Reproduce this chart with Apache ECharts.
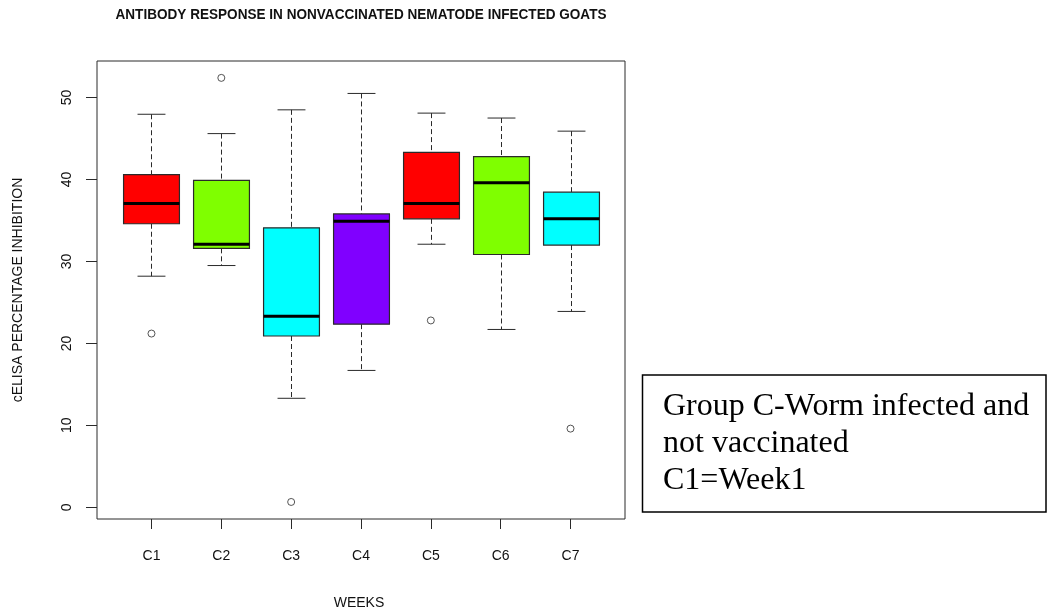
<!DOCTYPE html>
<html>
<head>
<meta charset="utf-8">
<script src="https://cdn.jsdelivr.net/npm/echarts@6/dist/echarts.min.js"></script>
<style>
html,body{margin:0;padding:0;background:#fff;}
#main{width:1048px;height:613px;}
</style>
</head>
<body>
<div id="main"></div>
<script>
// ---- data ----
const categories = ['C1', 'C2', 'C3', 'C4', 'C5', 'C6', 'C7'];
const weekPositions = [1, 2, 3, 4, 5, 6, 7];
const whiskerLow  = [28.2, 29.5, 13.3, 16.7, 32.1, 21.7, 23.9];
const q1Values    = [34.6, 31.6, 20.9, 22.35, 35.2, 30.85, 32.0];
const medians     = [37.07, 32.1, 23.3, 34.9, 37.07, 39.6, 35.2];
const q3Values    = [40.6, 39.9, 34.1, 35.8, 43.3, 42.8, 38.45];
const whiskerHigh = [47.96, 45.6, 48.5, 50.5, 48.1, 47.5, 45.9];
const outlierWeeks  = [1, 2, 3, 5, 7];
const outlierValues = [21.2, 52.4, 0.65, 22.8, 9.6];
const yTicks = [0, 10, 20, 30, 40, 50];
const boxColors = ['#FF0000', '#7FFF00', '#00FFFF', '#8000FF', '#FF0000', '#7FFF00', '#00FFFF'];

const titleText = 'ANTIBODY RESPONSE IN NONVACCINATED NEMATODE INFECTED GOATS';
const xTitle = 'WEEKS';
const yTitle = 'cELISA PERCENTAGE INHIBITION';
const noteLines = ['Group C-Worm infected and', 'not vaccinated', 'C1=Week1'];

// ---- build ----
const boxData = weekPositions.map((w, i) => [w, whiskerLow[i], q1Values[i], medians[i], q3Values[i], whiskerHigh[i]]);
const outlierData = outlierWeeks.map((w, i) => [w, outlierValues[i]]);

const lineCol = '#2a2a2a';

function renderBox(params, api) {
  const x = api.value(0);
  const lo = api.value(1), q1 = api.value(2), md = api.value(3), q3 = api.value(4), hi = api.value(5);
  const halfBox = api.size([0.4, 0])[0];
  const halfCap = api.size([0.2, 0])[0];
  const pLo = api.coord([x, lo]), pQ1 = api.coord([x, q1]), pMd = api.coord([x, md]);
  const pQ3 = api.coord([x, q3]), pHi = api.coord([x, hi]);
  const cx = Math.round(pMd[0]) + 0.5;
  const dashStyle = { stroke: lineCol, lineWidth: 1, lineDash: [5, 3] };
  const solid = { stroke: lineCol, lineWidth: 1 };
  return {
    type: 'group',
    children: [
      { type: 'line', shape: { x1: cx, y1: pHi[1], x2: cx, y2: pQ3[1] }, style: dashStyle },
      { type: 'line', shape: { x1: cx, y1: pQ1[1], x2: cx, y2: pLo[1] }, style: dashStyle },
      { type: 'line', shape: { x1: cx - halfCap, y1: pHi[1], x2: cx + halfCap, y2: pHi[1] }, style: solid },
      { type: 'line', shape: { x1: cx - halfCap, y1: pLo[1], x2: cx + halfCap, y2: pLo[1] }, style: solid },
      { type: 'rect', shape: { x: cx - halfBox, y: pQ3[1], width: 2 * halfBox, height: pQ1[1] - pQ3[1] },
        style: { fill: boxColors[params.dataIndex], stroke: lineCol, lineWidth: 1.2 } },
      { type: 'line', shape: { x1: cx - halfBox, y1: pMd[1], x2: cx + halfBox, y2: pMd[1] },
        style: { stroke: '#000', lineWidth: 3 } }
    ]
  };
}

const chart = echarts.init(document.getElementById('main'), null, { renderer: 'canvas' });

// measure title width for condensed rendering
const cv = document.createElement('canvas').getContext('2d');
cv.font = 'bold 14px "Liberation Sans", Arial, sans-serif';
const titleW = cv.measureText(titleText).width;
const titleScale = 491 / titleW;

const noteFont = '32px "Liberation Serif", "Times New Roman", serif';

const option = {
  backgroundColor: '#fff',
  animation: false,
  grid: { left: 97, right: 423, top: 61, bottom: 94, show: true, borderColor: lineCol, borderWidth: 1, backgroundColor: 'transparent' },
  xAxis: {
    type: 'value', min: 0.22, max: 7.78,
    axisLine: { show: false, onZero: false },
    splitLine: { show: false },
    axisTick: { show: true, customValues: weekPositions, length: 10, inside: false, lineStyle: { color: lineCol, width: 1 } },
    axisLabel: { customValues: weekPositions, formatter: v => categories[Math.round(v) - 1], margin: 30,
      fontFamily: '"Liberation Sans", Arial, sans-serif', fontSize: 14, color: '#111' }
  },
  yAxis: {
    type: 'value', min: -1.43, max: 54.46,
    axisLine: { show: false, onZero: false },
    splitLine: { show: false },
    axisTick: { show: true, customValues: yTicks, length: 11, inside: false, lineStyle: { color: lineCol, width: 1 } },
    axisLabel: { customValues: yTicks, rotate: 90, margin: 23,
      fontFamily: '"Liberation Sans", Arial, sans-serif', fontSize: 14, color: '#111' }
  },
  series: [
    { type: 'custom', renderItem: renderBox, data: boxData, encode: { x: 0, y: [1, 2, 3, 4, 5] }, clip: false },
    { type: 'scatter', data: outlierData, symbol: 'circle', symbolSize: 7,
      itemStyle: { color: '#fff', borderColor: lineCol, borderWidth: 1 } }
  ],
  graphic: [
    { type: 'text', x: 361, y: 15, scaleX: titleScale, originX: 0, originY: 0,
      style: { text: titleText, font: 'bold 14px "Liberation Sans", Arial, sans-serif', fill: '#111', align: 'center', verticalAlign: 'middle' } },
    { type: 'text', x: 359, y: 603,
      style: { text: xTitle, font: '14px "Liberation Sans", Arial, sans-serif', fill: '#111', align: 'center', verticalAlign: 'middle' } },
    { type: 'text', x: 18, y: 290, rotation: Math.PI / 2,
      style: { text: yTitle, font: '14px "Liberation Sans", Arial, sans-serif', fill: '#111', align: 'center', verticalAlign: 'middle' } },
    { type: 'rect', shape: { x: 642.5, y: 375, width: 403.5, height: 137 },
      style: { fill: '#fff', stroke: '#000', lineWidth: 1.5 } },
    { type: 'text', x: 663, y: 407,
      style: { text: noteLines[0], font: noteFont, fill: '#000', align: 'left', verticalAlign: 'middle' } },
    { type: 'text', x: 663, y: 444,
      style: { text: noteLines[1], font: noteFont, fill: '#000', align: 'left', verticalAlign: 'middle' } },
    { type: 'text', x: 663, y: 481,
      style: { text: noteLines[2], font: noteFont, fill: '#000', align: 'left', verticalAlign: 'middle' } }
  ]
};
chart.setOption(option);
</script>
</body>
</html>
